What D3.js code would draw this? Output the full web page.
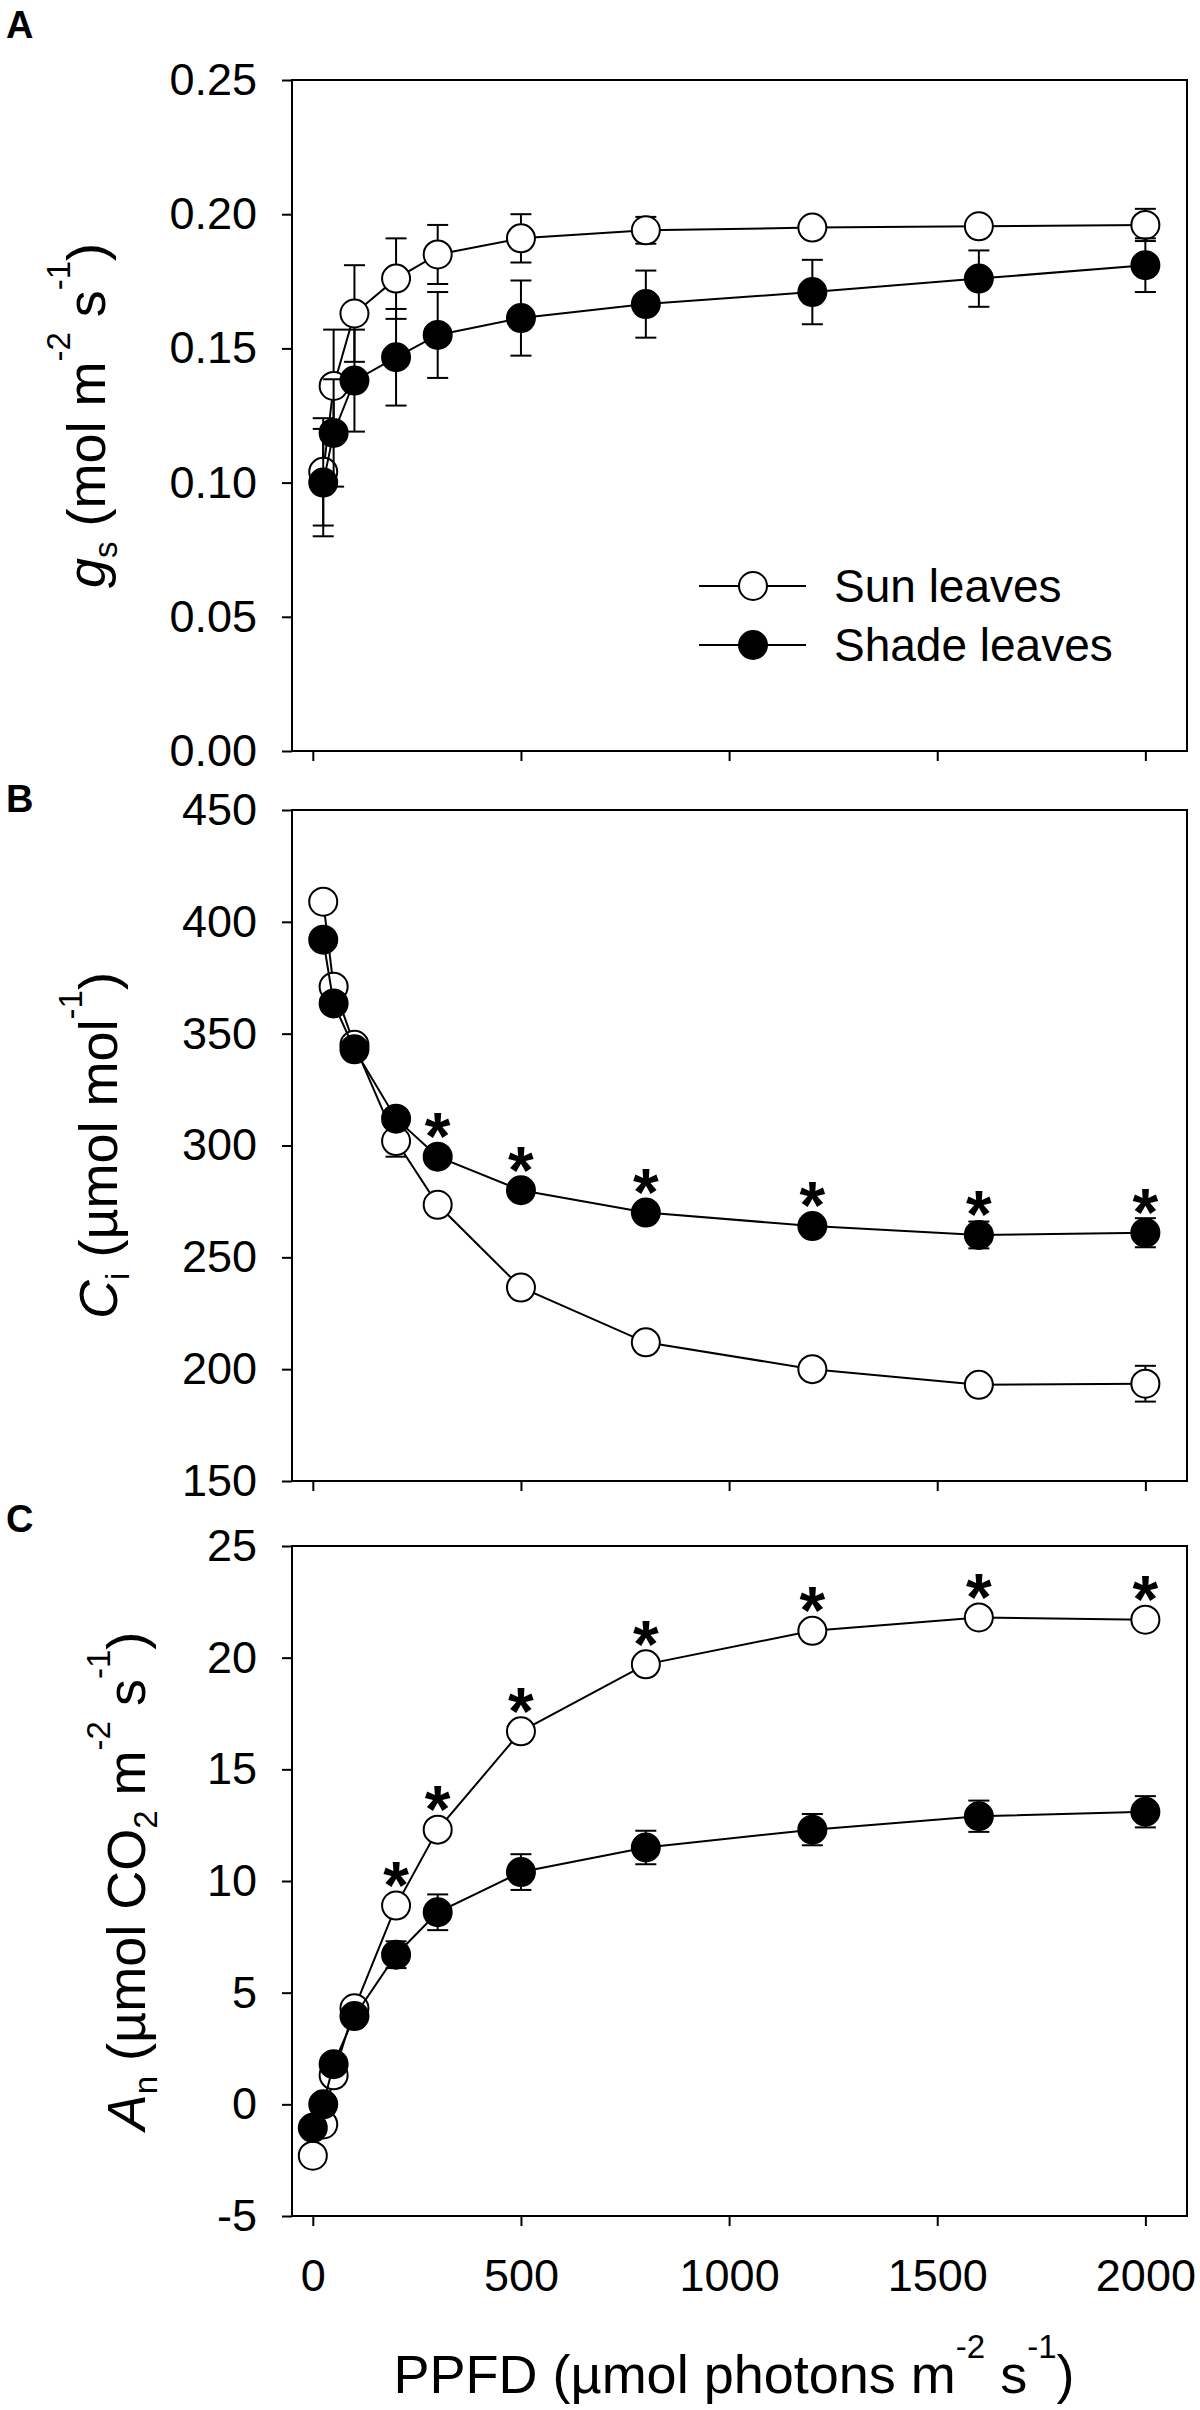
<!DOCTYPE html>
<html>
<head>
<meta charset="utf-8">
<script src="https://cdn.jsdelivr.net/npm/d3@7"></script>
<style>
  body { margin: 0; background: #fff; }
  text { font-family: "Liberation Sans", Arial, sans-serif; }
</style>
</head>
<body>
<svg id="chart"></svg>
<script>
// PPFD levels (µmol photons m-2 s-1); gs and Ci were not measured in the dark
const ppfdAll = [0, 25, 50, 100, 200, 300, 500, 800, 1200, 1600, 2000];
const ppfdLit = [25, 50, 100, 200, 300, 500, 800, 1200, 1600, 2000];

// A: stomatal conductance gs (mol m-2 s-1)
const gsSun      = [0.104, 0.136, 0.163, 0.176, 0.185, 0.191, 0.194, 0.195, 0.1955, 0.196];
const gsSunErr   = [0.020, 0.021, 0.018, 0.015, 0.011, 0.009, 0.005, 0.002, 0.002, 0.006];
const gsShade    = [0.100, 0.1185, 0.138, 0.1467, 0.155, 0.1613, 0.1665, 0.171, 0.176, 0.181];
const gsShadeErr = [0.020, 0.020, 0.019, 0.018, 0.016, 0.014, 0.0125, 0.012, 0.0105, 0.010];

// B: intercellular CO2 Ci (µmol mol-1)
const ciSun      = [409, 371, 345, 302, 273.5, 236.5, 212, 200, 193, 193.5];
const ciSunErr   = [3, 3, 3, 7, 3, 3, 3, 3, 3, 8];
const ciShade    = [392, 363.5, 343, 312, 295, 280, 270, 264, 260, 261];
const ciShadeErr = [3, 3, 3, 3, 3, 3, 3, 3, 6, 6.5];

// C: net assimilation An (µmol CO2 m-2 s-1)
const anSun      = [-2.3, -0.9, 1.3, 4.3, 8.9, 12.3, 16.7, 19.7, 21.2, 21.8, 21.7];
const anSunErr   = [0.3, 0.3, 0.3, 0.3, 0.4, 0.4, 0.4, 0.4, 0.4, 0.4, 0.4];
const anShade    = [-1.05, 0.0, 1.8, 3.95, 6.7, 8.6, 10.4, 11.5, 12.3, 12.9, 13.1];
const anShadeErr = [0.3, 0.3, 0.3, 0.3, 0.6, 0.8, 0.8, 0.75, 0.7, 0.7, 0.7];

// significant differences (PPFD levels marked with *)
const ciStars = [300, 500, 800, 1200, 1600, 2000];
const anStars = [200, 300, 500, 800, 1200, 1600, 2000];

// tick labels
const xTicks  = [0, 500, 1000, 1500, 2000];
const gsTicks = [0, 0.05, 0.10, 0.15, 0.20, 0.25];
const ciTicks = [150, 200, 250, 300, 350, 400, 450];
const anTicks = [-5, 0, 5, 10, 15, 20, 25];

const seriesNames = ["Sun leaves", "Shade leaves"];

const W = 1200, H = 2410;
const svg = d3.select("#chart").attr("width", W).attr("height", H);

const x = d3.scaleLinear().domain([-50, 2100]).range([292, 1187]);
const R = 14, CAP = 10.5;
const TITLE = 54, SMALL = 33;

const panels = [
  { letter: "A", letterY: 38, top: 80, bottom: 751, domain: [0, 0.25], ticks: gsTicks,
    fmt: d3.format(".2f"), xs: ppfdLit, sun: gsSun, sunErr: gsSunErr,
    shade: gsShade, shadeErr: gsShadeErr, titleX: 105, stars: [], starOn: null,
    title: [{ t: "g", i: true }, { t: "s", sub: true }, { t: " (mol m" }, { t: "-2", sup: true },
            { t: " s" }, { t: "-1", sup: true }, { t: ")" }] },
  { letter: "B", letterY: 812, top: 810, bottom: 1481, domain: [150, 450], ticks: ciTicks,
    fmt: d => String(d), xs: ppfdLit, sun: ciSun, sunErr: ciSunErr,
    shade: ciShade, shadeErr: ciShadeErr, titleX: 117, stars: ciStars, starOn: "shade",
    title: [{ t: "C", i: true }, { t: "i", sub: true }, { t: " (µmol mol" }, { t: "-1", sup: true },
            { t: ")" }] },
  { letter: "C", letterY: 1532, top: 1546, bottom: 2216, domain: [-5, 25], ticks: anTicks,
    fmt: d => String(d), xs: ppfdAll, sun: anSun, sunErr: anSunErr,
    shade: anShade, shadeErr: anShadeErr, titleX: 145, stars: anStars, starOn: "sun",
    title: [{ t: "A", i: true }, { t: "n", sub: true }, { t: " (µmol CO" }, { t: "2", sub: true },
            { t: " m" }, { t: "-2", sup: true }, { t: " s" }, { t: "-1", sup: true }, { t: ")" }] }
];

// writes a run of tspans with raised / lowered parts
function richText(sel, parts, size) {
  let shift = 0;
  parts.forEach(p => {
    const want = p.sup ? -35 : p.sub ? 12 : 0;
    sel.append("tspan")
      .attr("dy", want - shift)
      .attr("font-size", p.sup || p.sub ? SMALL : size)
      .attr("font-style", p.i ? "italic" : null)
      .text(p.t);
    shift = want;
  });
}

panels.forEach((p, k) => {
  const y = d3.scaleLinear().domain(p.domain).range([p.bottom, p.top]);
  const g = svg.append("g");

  // frame
  g.append("rect")
    .attr("x", x.range()[0]).attr("y", p.top)
    .attr("width", x.range()[1] - x.range()[0]).attr("height", p.bottom - p.top)
    .attr("fill", "none").attr("stroke", "#000").attr("stroke-width", 2);

  const yAxis = g.append("g")
    .attr("transform", `translate(${x.range()[0]},0)`)
    .call(d3.axisLeft(y).tickValues(p.ticks).tickFormat(p.fmt)
      .tickSize(10).tickPadding(25).tickSizeOuter(0));

  const xAxis = g.append("g")
    .attr("transform", `translate(0,${p.bottom})`)
    .call(d3.axisBottom(x).tickValues(xTicks)
      .tickFormat(k === 2 ? d => String(d) : () => "")
      .tickSize(10).tickPadding(33).tickSizeOuter(0));

  [yAxis, xAxis].forEach(a => {
    a.select(".domain").remove();
    a.selectAll(".tick line").attr("stroke", "#000").attr("stroke-width", 2);
    a.selectAll(".tick text").attr("fill", "#000").attr("font-size", 45)
      .attr("font-family", "'Liberation Sans', Arial, sans-serif");
  });

  // panel letter
  g.append("text").attr("x", 6).attr("y", p.letterY)
    .attr("font-size", 38).attr("font-weight", "bold").text(p.letter);

  // y title
  const yt = g.append("text")
    .attr("transform", `translate(${p.titleX},${(p.top + p.bottom) / 2}) rotate(-90)`)
    .attr("text-anchor", "middle").attr("font-size", TITLE);
  richText(yt, p.title, TITLE);

  const line = d3.line().x(d => x(d[0])).y(d => y(d[1]));

  [["sun", "#fff"], ["shade", "#000"]].forEach(([key, fill]) => {
    const vals = p[key], errs = p[key + "Err"];
    const pts = p.xs.map((v, i) => [v, vals[i], errs[i]]);

    g.append("path").datum(pts).attr("d", line)
      .attr("fill", "none").attr("stroke", "#000").attr("stroke-width", 2);

    const eb = g.append("g").attr("stroke", "#000").attr("stroke-width", 2);
    pts.forEach(d => {
      const cx = x(d[0]), hi = y(d[1] + d[2]), lo = y(d[1] - d[2]);
      eb.append("line").attr("x1", cx).attr("x2", cx).attr("y1", hi).attr("y2", lo);
      eb.append("line").attr("x1", cx - CAP).attr("x2", cx + CAP).attr("y1", hi).attr("y2", hi);
      eb.append("line").attr("x1", cx - CAP).attr("x2", cx + CAP).attr("y1", lo).attr("y2", lo);
    });

    g.selectAll(null).data(pts).enter().append("circle")
      .attr("cx", d => x(d[0])).attr("cy", d => y(d[1])).attr("r", R)
      .attr("fill", fill).attr("stroke", "#000").attr("stroke-width", 2);
  });

  // significance stars
  p.stars.forEach(s => {
    const i = p.xs.indexOf(s);
    const v = p[p.starOn][i];
    g.append("text")
      .attr("x", x(s)).attr("y", y(v) - 34 + 0.55 * 66)
      .attr("text-anchor", "middle").attr("font-size", 66).attr("font-weight", "bold")
      .text("*");
  });

  // legend in panel A
  if (k === 0) {
    const rows = [[586, "#fff"], [645, "#000"]];
    rows.forEach(([ly, fill], j) => {
      g.append("line").attr("x1", 699).attr("x2", 806).attr("y1", ly).attr("y2", ly)
        .attr("stroke", "#000").attr("stroke-width", 2);
      g.append("circle").attr("cx", 753).attr("cy", ly).attr("r", R)
        .attr("fill", fill).attr("stroke", "#000").attr("stroke-width", 2);
      g.append("text").attr("x", 834).attr("y", ly + 16)
        .attr("font-size", 46).text(seriesNames[j]);
    });
  }
});

// x title
const xt = svg.append("text")
  .attr("x", 734).attr("y", 2393)
  .attr("text-anchor", "middle").attr("font-size", TITLE);
richText(xt, [{ t: "PPFD (µmol photons m" }, { t: "-2", sup: true }, { t: " s" },
              { t: "-1", sup: true }, { t: ")" }], TITLE);
</script>
</body>
</html>
